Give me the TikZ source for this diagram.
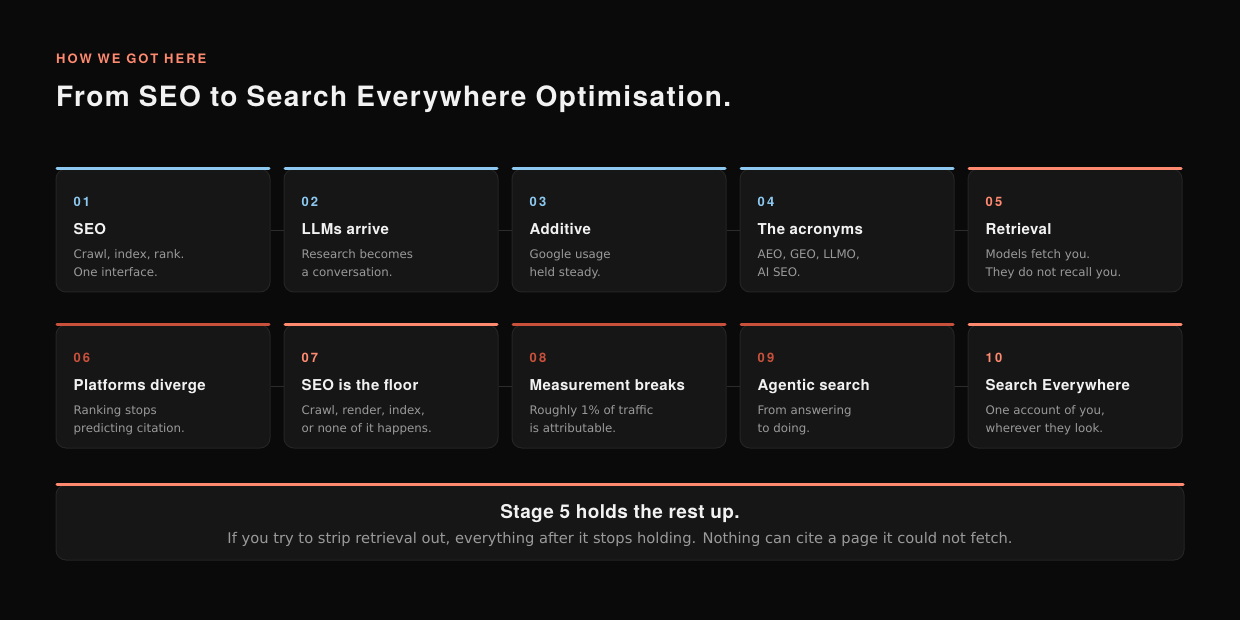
\documentclass[tikz,border=0pt]{standalone}
\usepackage{fontspec}
\setmainfont{DejaVu Sans}
\newfontfamily\headfont{TeX Gyre Heros}
\usetikzlibrary{positioning}

\definecolor{pagebg}{HTML}{0A0A0A}
\definecolor{cardbg}{HTML}{161616}
\definecolor{cardline}{HTML}{242424}
\definecolor{skyblue}{HTML}{8CC8F0}
\definecolor{coral}{HTML}{FF8A70}
\definecolor{rust}{HTML}{C9513B}
\definecolor{titlewhite}{HTML}{F2F2F2}
\definecolor{descgray}{HTML}{9A9A9A}
\definecolor{linkgray}{HTML}{2C2C2C}

\tikzset{
	card/.style={draw=cardline, fill=cardbg, line width=1pt, rounded corners=10pt,
		minimum width=214pt, minimum height=123pt, inner sep=0pt},
	topbar/.style={draw=#1, line width=3pt, line cap=round},
	stagenum/.style={anchor=base west, inner sep=0pt, text=#1,
		font=\headfont\bfseries\fontsize{13}{13}\selectfont\addfontfeature{LetterSpace=16}},
	stagetitle/.style={anchor=base west, inner sep=0pt, text=titlewhite,
		font=\headfont\bfseries\fontsize{15}{15}\selectfont\addfontfeature{LetterSpace=2.5}},
	stagedesc/.style={anchor=base west, inner sep=0pt, text=descgray,
		font=\fontsize{11.8}{11.8}\selectfont},
	link/.style={draw=linkgray, line width=1.5pt},
}

\begin{document}
\begin{tikzpicture}[x=1pt, y=-1pt]
	\fill[pagebg] (0,0) rectangle (1240,620);
	\useasboundingbox (0,0) rectangle (1240,620);

	\node[anchor=base west, inner sep=0pt, text=coral,
		font=\headfont\bfseries\fontsize{13}{13}\selectfont\addfontfeature{LetterSpace=16}]
		(kicker) at (56,64) {HOW WE GOT HERE};
	\node[anchor=base west, inner sep=0pt, text=titlewhite,
		font=\headfont\bfseries\fontsize{28}{28}\selectfont\addfontfeature{LetterSpace=5}]
		(headline) at (56,107) {From SEO to Search Everywhere Optimisation.};

	% the ten stages
	\foreach \n/\cx/\cy/\col/\title/\lineA/\lineB in {
		01/163/230.5/skyblue/SEO/{Crawl, index, rank.}/{One interface.},
		02/391/230.5/skyblue/LLMs arrive/{Research becomes}/{a conversation.},
		03/619/230.5/skyblue/Additive/{Google usage}/{held steady.},
		04/847/230.5/skyblue/The acronyms/{AEO, GEO, LLMO,}/{AI SEO.},
		05/1075/230.5/coral/Retrieval/{Models fetch you.}/{They do not recall you.},
		06/163/386.5/rust/Platforms diverge/{Ranking stops}/{predicting citation.},
		07/391/386.5/coral/SEO is the floor/{Crawl, render, index,}/{or none of it happens.},
		08/619/386.5/rust/Measurement breaks/{Roughly 1\% of traffic}/{is attributable.},
		09/847/386.5/rust/Agentic search/{From answering}/{to doing.},
		10/1075/386.5/coral/Search Everywhere/{One account of you,}/{wherever they look.}}
	{
		\node[card] (c\n) at (\cx,\cy) {};
		\draw[topbar=\col] ([xshift=1.5pt]c\n.north west) -- ([xshift=-1.5pt]c\n.north east);
		\node[stagenum=\col] (c\n-num) at ([shift={(18,38)}]c\n.north west) {\n};
		\node[stagetitle] (c\n-title) at ([shift={(18,66)}]c\n.north west) {\title};
		\node[stagedesc] (c\n-lineA) at ([shift={(18,90)}]c\n.north west) {\lineA};
		\node[stagedesc] (c\n-lineB) at ([shift={(18,108)}]c\n.north west) {\lineB};
	}

	\foreach \a/\b in {01/02,02/03,03/04,04/05,06/07,07/08,08/09,09/10}
		\draw[link] (c\a.east) -- (c\b.west);

	% closing note
	\node[card, minimum width=1128pt, minimum height=75pt] (note) at (620,522.5) {};
	\draw[topbar=coral] ([xshift=1.5pt]note.north west) -- ([xshift=-1.5pt]note.north east);
	\node[anchor=base, inner sep=0pt, text=titlewhite,
		font=\headfont\bfseries\fontsize{19}{19}\selectfont\addfontfeature{LetterSpace=2}]
		(note-title) at (620,518) {Stage 5 holds the rest up.};
	\node[anchor=base, inner sep=0pt, text=descgray, font=\fontsize{14.7}{14.7}\selectfont]
		(note-text) at (620,543) {If you try to strip retrieval out, everything after it stops holding. Nothing can cite a page it could not fetch.};
\end{tikzpicture}
\end{document}
